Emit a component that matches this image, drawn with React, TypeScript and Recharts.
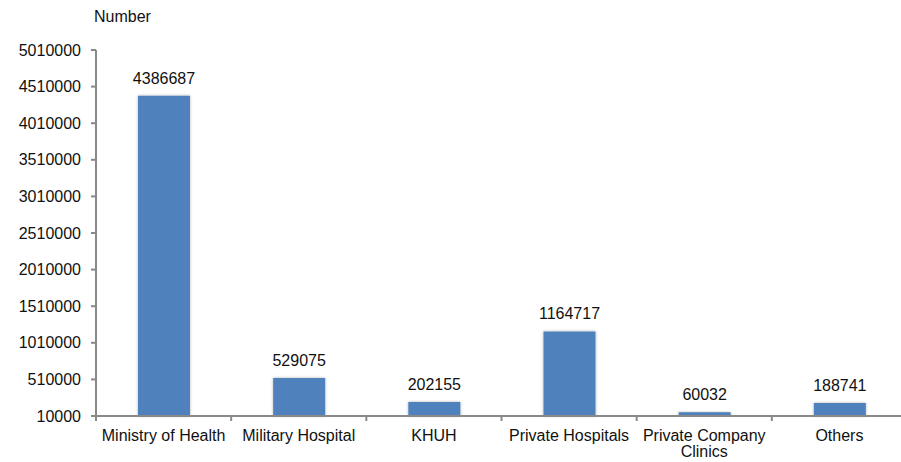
import { BarChart, Bar, XAxis, YAxis, LabelList, Text } from "recharts"

const categories = ["Ministry of Health", "Military Hospital", "KHUH", "Private Hospitals", "Private Company Clinics", "Others"]
const values = [4386687, 529075, 202155, 1164717, 60032, 188741]
const yTicks = [10000, 510000, 1010000, 1510000, 2010000, 2510000, 3010000, 3510000, 4010000, 4510000, 5010000]

const data = categories.map((name, i) => ({ name, value: values[i] }))

const font = "'Liberation Sans', Arial, sans-serif"
const axisColor = "#898989"

// category labels plus the boundary tick marks between categories
function CategoryTick(props: any) {
  const { x, y, payload, index } = props
  const half = payload && payload.offset ? payload.offset : 67.5
  const axisY = y - 14
  return (
    <g>
      <line x1={x - half} x2={x - half} y1={axisY} y2={axisY + 5} stroke={axisColor} strokeWidth={2} />
      {index === categories.length - 1 && (
        <line x1={x + half} x2={x + half} y1={axisY} y2={axisY + 5} stroke={axisColor} strokeWidth={2} />
      )}
      <Text
        x={x}
        y={y}
        width={135}
        textAnchor="middle"
        verticalAnchor="start"
        fontSize={16}
        fontFamily={font}
        fill="#111"
        lineHeight={16}
      >
        {payload.value}
      </Text>
    </g>
  )
}

export default function App() {
  return (
    <div style={{ position: "absolute", left: 0, top: 0, width: 901, height: 462, overflow: "hidden", background: "#fff" }}>
      <div style={{ position: "absolute", left: 94, top: 8, fontFamily: font, fontSize: 16, color: "#111" }}>Number</div>
      <BarChart width={910} height={462} data={data} margin={{ top: 50, right: 3, bottom: 0, left: 0 }} barSize={52}>
        <defs>
          <filter id="barShadow" x="-20%" y="-10%" width="140%" height="120%">
            <feDropShadow dx="0" dy="0" stdDeviation="1.6" floodColor="#000" floodOpacity="0.3" />
          </filter>
        </defs>
        <XAxis
          dataKey="name"
          interval={0}
          height={46}
          tickSize={0}
          tickMargin={14}
          tickLine={false}
          axisLine={{ stroke: axisColor, strokeWidth: 2 }}
          tick={<CategoryTick />}
        />
        <YAxis
          domain={[10000, 5010000]}
          ticks={yTicks}
          interval={0}
          width={96}
          tickSize={5}
          tickMargin={10}
          axisLine={{ stroke: axisColor, strokeWidth: 2 }}
          tickLine={{ stroke: axisColor, strokeWidth: 2 }}
          tick={{ fontSize: 16, fill: "#111", fontFamily: font }}
        />
        <Bar dataKey="value" fill="#4f81bd" filter="url(#barShadow)" isAnimationActive={false}>
          <LabelList dataKey="value" position="top" offset={12} fontSize={16} fill="#111" fontFamily={font} />
        </Bar>
      </BarChart>
    </div>
  )
}
